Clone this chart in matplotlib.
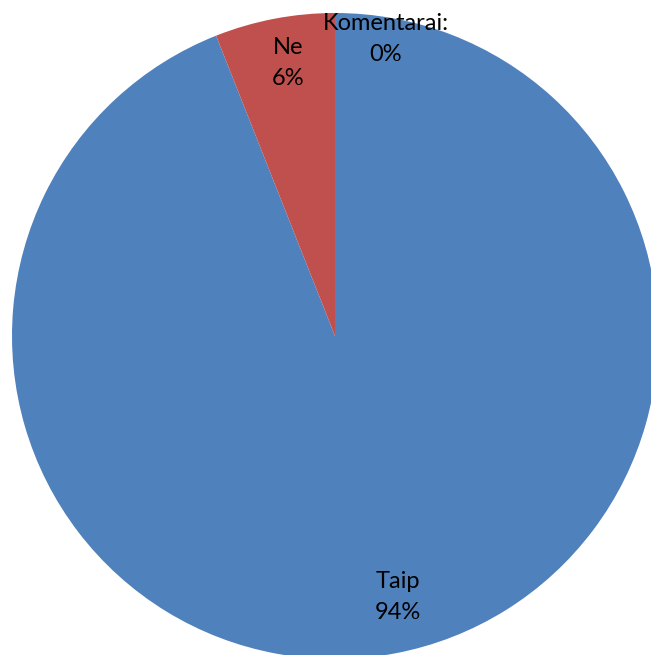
import matplotlib
matplotlib.use("Agg")
import matplotlib.pyplot as plt

labels = ["Taip", "Ne", "Komentarai:"]
values = [94, 6, 0]
colors = ["#4F81BD", "#C0504D", "#9BBB59"]

plt.rcParams['font.family'] = ['Lato', 'DejaVu Sans']

fig = plt.figure(figsize=(6.51, 6.55), dpi=100)
ax = fig.add_axes([0, 0, 1, 1])

ax.pie(values, colors=colors, startangle=90, counterclock=False,
       center=(335, 319), radius=323,
       wedgeprops=dict(linewidth=0))

ax.set_xlim(0, 651)
ax.set_ylim(0, 655)
ax.set_aspect('equal')
ax.axis('off')

# data labels, placed the way the spreadsheet put them
label_pos = [(398, 58), (288, 592), (386, 616)]
for lab, v, (x, y) in zip(labels, values, label_pos):
    ax.text(x, y, f"{lab}\n{v}%", ha='center', va='center',
            fontsize=17, linespacing=1.55)

fig.savefig("out.png", dpi=100)
